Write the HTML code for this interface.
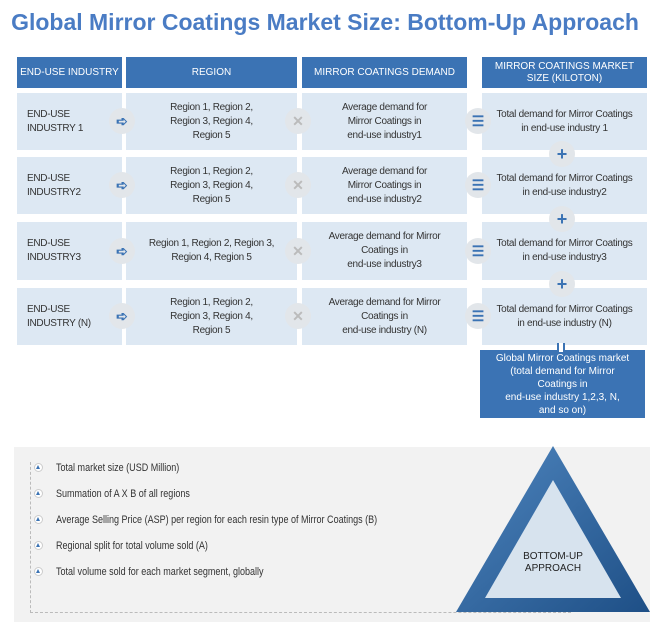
<!DOCTYPE html>
<html><head><style>
body{margin:0;width:650px;height:631px;background:#fff;font-family:"Liberation Sans",sans-serif;position:relative;overflow:hidden}
.a{position:absolute;box-sizing:border-box;display:flex;align-items:center;justify-content:center;text-align:center}
.h{background:#3b73b4;color:#fff;font-size:10px;line-height:12px}
.c{background:#dde8f3;color:#333;font-size:10px;line-height:14px;letter-spacing:-0.3px}
.l{justify-content:flex-start;text-align:left;padding-left:10px}
.ic{position:absolute;width:26px;height:26px;border-radius:50%;background:#e2e6ea;color:#3b73b4;font-size:14px;display:flex;align-items:center;justify-content:center;font-weight:bold}
.li{position:absolute;left:56px;font-size:11px;color:#333;transform:scaleX(0.82);transform-origin:0 0;white-space:nowrap}
.b{position:absolute;left:34px;width:7px;height:7px;border-radius:50%;background:#fff;border:1px solid #ccc}
.b:after{content:"";position:absolute;left:1px;top:1px;border-left:2.5px solid transparent;border-right:2.5px solid transparent;border-bottom:4px solid #3b73b4}
</style></head><body>
<div class="a" style="left:0;top:6px;width:650px;height:32px;color:#4a7cc4;font-size:23px;font-weight:bold">Global Mirror Coatings Market Size: Bottom-Up Approach</div>
<div class="a h" style="left:17px;top:57px;width:105px;height:31px">END-USE INDUSTRY</div>
<div class="a h" style="left:126px;top:57px;width:171px;height:31px">REGION</div>
<div class="a h" style="left:302px;top:57px;width:165px;height:31px">MIRROR COATINGS DEMAND</div>
<div class="a h" style="left:482px;top:57px;width:165px;height:31px">MIRROR COATINGS MARKET<br>SIZE (KILOTON)</div>

<div class="a c l" style="left:17px;top:93px;width:105px;height:57px">END-USE<br>INDUSTRY 1</div>
<div class="a c" style="left:126px;top:93px;width:171px;height:57px">Region 1, Region 2,<br>Region 3, Region 4,<br>Region 5</div>
<div class="a c" style="left:302px;top:93px;width:165px;height:57px">Average demand for<br>Mirror Coatings in<br>end-use industry1</div>
<div class="a c" style="left:482px;top:93px;width:165px;height:57px">Total demand for Mirror Coatings<br>in end-use industry 1</div>

<div class="a c l" style="left:17px;top:157px;width:105px;height:57px">END-USE<br>INDUSTRY2</div>
<div class="a c" style="left:126px;top:157px;width:171px;height:57px">Region 1, Region 2,<br>Region 3, Region 4,<br>Region 5</div>
<div class="a c" style="left:302px;top:157px;width:165px;height:57px">Average demand for<br>Mirror Coatings in<br>end-use industry2</div>
<div class="a c" style="left:482px;top:157px;width:165px;height:57px">Total demand for Mirror Coatings<br>in end-use industry2</div>

<div class="a c l" style="left:17px;top:222px;width:105px;height:58px">END-USE<br>INDUSTRY3</div>
<div class="a c" style="left:126px;top:222px;width:171px;height:58px">Region 1, Region 2, Region 3,<br>Region 4, Region 5</div>
<div class="a c" style="left:302px;top:222px;width:165px;height:58px">Average demand for Mirror<br>Coatings in<br>end-use industry3</div>
<div class="a c" style="left:482px;top:222px;width:165px;height:58px">Total demand for Mirror Coatings<br>in end-use industry3</div>

<div class="a c l" style="left:17px;top:288px;width:105px;height:57px">END-USE<br>INDUSTRY (N)</div>
<div class="a c" style="left:126px;top:288px;width:171px;height:57px">Region 1, Region 2,<br>Region 3, Region 4,<br>Region 5</div>
<div class="a c" style="left:302px;top:288px;width:165px;height:57px">Average demand for Mirror<br>Coatings in<br>end-use industry (N)</div>
<div class="a c" style="left:482px;top:288px;width:165px;height:57px">Total demand for Mirror Coatings<br>in end-use industry (N)</div>

<div class="a" style="left:480px;top:350px;width:165px;height:68px;background:#3b73b4;color:#fff;font-size:10px;line-height:13px">Global Mirror Coatings market<br>(total demand for Mirror<br>Coatings in<br>end-use industry 1,2,3, N,<br>and so on)</div>
<div style="position:absolute;left:557px;top:343px;width:8px;height:9px;border-left:2px solid #3b73b4;border-right:2px solid #3b73b4;box-sizing:border-box;background:#fff"></div>

<div class="ic" style="left:109px;top:108px">➪</div><div class="ic" style="left:285px;top:108px;color:#bbb">✕</div><div class="ic" style="left:465px;top:108px">☰</div>
<div class="ic" style="left:109px;top:172px">➪</div><div class="ic" style="left:285px;top:172px;color:#bbb">✕</div><div class="ic" style="left:465px;top:172px">☰</div>
<div class="ic" style="left:109px;top:238px">➪</div><div class="ic" style="left:285px;top:238px;color:#bbb">✕</div><div class="ic" style="left:465px;top:238px">☰</div>
<div class="ic" style="left:109px;top:303px">➪</div><div class="ic" style="left:285px;top:303px;color:#bbb">✕</div><div class="ic" style="left:465px;top:303px">☰</div>
<div class="ic" style="left:549px;top:141px;font-size:18px">+</div>
<div class="ic" style="left:549px;top:206px;font-size:18px">+</div>
<div class="ic" style="left:549px;top:271px;font-size:18px">+</div>

<div style="position:absolute;left:14px;top:447px;width:636px;height:175px;background:#f2f2f2"></div>
<div style="position:absolute;left:30px;top:462px;width:540px;height:150px;border-left:1px dashed #bbb;border-bottom:1px dashed #bbb"></div>
<div class="b" style="top:463px"></div><div class="li" style="top:462px">Total market size (USD Million)</div>
<div class="b" style="top:489px"></div><div class="li" style="top:488px">Summation of A X B of all regions</div>
<div class="b" style="top:515px"></div><div class="li" style="top:514px">Average Selling Price (ASP) per region for each resin type of Mirror Coatings (B)</div>
<div class="b" style="top:541px"></div><div class="li" style="top:540px">Regional split for total volume sold (A)</div>
<div class="b" style="top:567px"></div><div class="li" style="top:566px">Total volume sold for each market segment, globally</div>

<svg style="position:absolute;left:0;top:0" width="650" height="631">
<defs><linearGradient id="g" x1="0" y1="0" x2="1" y2="1"><stop offset="0" stop-color="#4f86bf"/><stop offset="1" stop-color="#1e4f86"/></linearGradient></defs>
<polygon points="553,446 456,612 650,612" fill="url(#g)"/>
<polygon points="553,480 485,598 621,598" fill="#d7e3ee"/>
</svg>
<div class="a" style="left:505px;top:548px;width:96px;height:30px;font-size:10px;color:#222;line-height:12px">BOTTOM-UP<br>APPROACH</div>
</body></html>
